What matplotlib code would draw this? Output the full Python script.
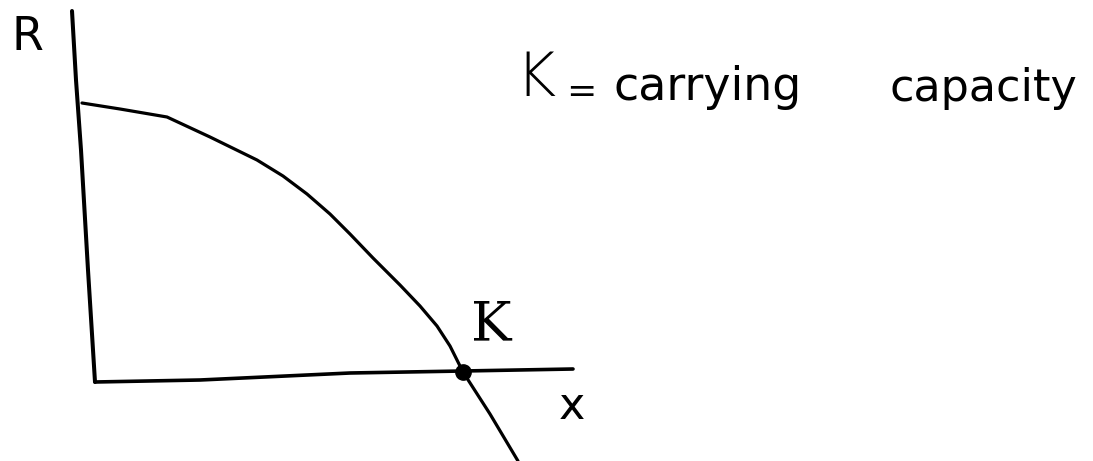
import numpy as np
import matplotlib.pyplot as plt

# hand sketch: growth rate R against population x, crossing zero at K
# (coordinates are in pixel units of the canvas, y grows downward)
yaxis_x = [72, 76, 81, 88, 95]
yaxis_y = [11, 80, 150, 270, 382]

xaxis_x = [95, 200, 350, 463, 573]
xaxis_y = [382, 380, 373, 371, 369]

curve_x = [82, 120, 167, 210, 257, 283, 307, 330, 350, 373, 400, 420, 437, 450, 463, 490, 518]
curve_y = [103, 109, 117, 137, 160, 176, 194, 214, 234, 258, 285, 306, 326, 346, 372, 414, 461]

K_point = (463, 372)

fig = plt.figure(figsize=(10.93, 4.61), dpi=100)
ax = fig.add_axes([0, 0, 1, 1])
ax.set_xlim(0, 1093)
ax.set_ylim(461, 0)
ax.axis('off')

style = dict(color='black', solid_capstyle='round', solid_joinstyle='round')
ax.plot(yaxis_x, yaxis_y, lw=2.9, **style)
ax.plot(xaxis_x, xaxis_y, lw=2.6, **style)
ax.plot(curve_x, curve_y, lw=2.3, **style)
ax.plot([K_point[0]], [K_point[1]], 'o', color='black', ms=11)

ax.text(27, 37, 'R', fontsize=33, ha='center', va='center')
ax.text(491, 325, 'K', fontsize=39, family='DejaVu Serif', ha='center', va='center')
ax.text(572, 406, 'x', fontsize=32, ha='center', va='center')

ax.text(515, 80, 'K', fontsize=44, ha='left', va='center', fontweight='light')
ax.text(566, 92, '=', fontsize=26, ha='left', va='center')
ax.text(613, 88, 'carrying', fontsize=33, ha='left', va='center')
ax.text(890, 88, 'capacity', fontsize=32, ha='left', va='center')

plt.savefig('out.png', dpi=100)
